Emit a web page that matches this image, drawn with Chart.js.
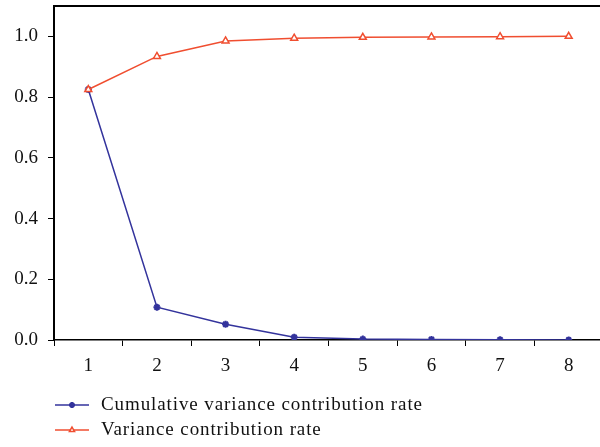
<!DOCTYPE html>
<html>
<head>
<meta charset="utf-8">
<script src="https://cdn.jsdelivr.net/npm/chart.js@4/dist/chart.umd.min.js"></script>
<style>
  html, body { margin: 0; padding: 0; background: #fff; overflow: hidden; }
  #wrap { width: 609px; height: 447px; }
</style>
</head>
<body>
<div id="wrap"><canvas id="chart" width="609" height="447"></canvas></div>
<script>
// values
const components = ["1", "2", "3", "4", "5", "6", "7", "8"];
const cumulativeRate = [0.825, 0.108, 0.052, 0.009, 0.003, 0.002, 0.001, 0.0];
const varianceRate = [0.825, 0.934, 0.985, 0.994, 0.997, 0.998, 0.999, 1.0];
const yTicks = [0, 0.2, 0.4, 0.6, 0.8, 1.0];

const FONT = "'Liberation Serif', 'DejaVu Serif', serif";
const BLUE = "#33339c";
const RED = "#f04e30";

// top frame line + stacked legend under the axis
const framePlugin = {
    id: "frame",
    afterDraw(chart) {
        const ctx = chart.ctx;
        const area = chart.chartArea;
        ctx.save();
        ctx.strokeStyle = "#000";
        ctx.lineWidth = 2;
        ctx.beginPath();
        ctx.moveTo(area.left - 1, area.top);
        ctx.lineTo(chart.width, area.top);
        ctx.stroke();

        const rows = [405, 430];
        chart.data.datasets.forEach((ds, i) => {
            const y = rows[i];
            ctx.strokeStyle = ds.borderColor;
            ctx.fillStyle = ds.pointBackgroundColor;
            ctx.lineWidth = 1.5;
            ctx.beginPath();
            ctx.moveTo(55, y);
            ctx.lineTo(89, y);
            ctx.stroke();
            ctx.lineWidth = ds.pointBorderWidth;
            Chart.helpers.drawPoint(ctx, {
                pointStyle: ds.pointStyle,
                radius: 3,
                borderWidth: ds.pointBorderWidth
            }, 72, y);
            ctx.fillStyle = "#111";
            ctx.font = "19px " + FONT;
            ctx.letterSpacing = "0.9px";
            ctx.textBaseline = "middle";
            ctx.fillText(ds.label, 101, y);
            ctx.letterSpacing = "0px";
        });
        ctx.restore();
    }
};

new Chart(document.getElementById("chart"), {
    type: "line",
    data: {
        labels: components,
        datasets: [
            {
                label: "Cumulative variance contribution rate",
                data: cumulativeRate,
                order: 1,
                borderColor: BLUE,
                backgroundColor: BLUE,
                borderWidth: 1.5,
                pointStyle: "star",
                pointRadius: 3.5,
                pointBorderWidth: 2,
                pointBorderColor: BLUE,
                pointBackgroundColor: BLUE
            },
            {
                label: "Variance contribution rate",
                data: varianceRate,
                order: 0,
                borderColor: RED,
                backgroundColor: "#fff",
                borderWidth: 1.5,
                pointStyle: "triangle",
                pointRadius: 4,
                pointBorderWidth: 1.5,
                pointBorderColor: RED,
                pointBackgroundColor: "#fff"
            }
        ]
    },
    options: {
        responsive: false,
        animation: false,
        layout: {padding: {left: 0, right: 0, top: 6, bottom: 0}},
        plugins: {
            legend: {display: false},
            tooltip: {enabled: false}
        },
        scales: {
            x: {
                offset: true,
                grid: {
                    offset: true,
                    drawOnChartArea: false,
                    drawTicks: true,
                    tickLength: 6,
                    color: "#000",
                    lineWidth: 1
                },
                border: {display: true, color: "#000", width: 1.5},
                ticks: {
                    color: "#111",
                    padding: 9,
                    font: {family: FONT, size: 19},
                    maxRotation: 0
                },
                afterFit(scale) {
                    scale.height = 107;
                    scale.paddingLeft = 0;
                    scale.paddingRight = 0;
                }
            },
            y: {
                min: 0,
                max: 1.1,
                grid: {
                    drawOnChartArea: false,
                    drawTicks: true,
                    tickLength: 6,
                    color: "#000",
                    lineWidth: 1
                },
                border: {display: true, color: "#000", width: 2},
                ticks: {
                    color: "#111",
                    padding: 10,
                    font: {family: FONT, size: 19},
                    callback: v => v.toFixed(1)
                },
                afterBuildTicks(scale) {
                    scale.ticks = yTicks.map(v => ({value: v}));
                },
                afterFit(scale) {
                    scale.width = 54;
                    scale.paddingTop = 0;
                    scale.paddingBottom = 0;
                }
            }
        }
    },
    plugins: [framePlugin]
});
</script>
</body>
</html>
